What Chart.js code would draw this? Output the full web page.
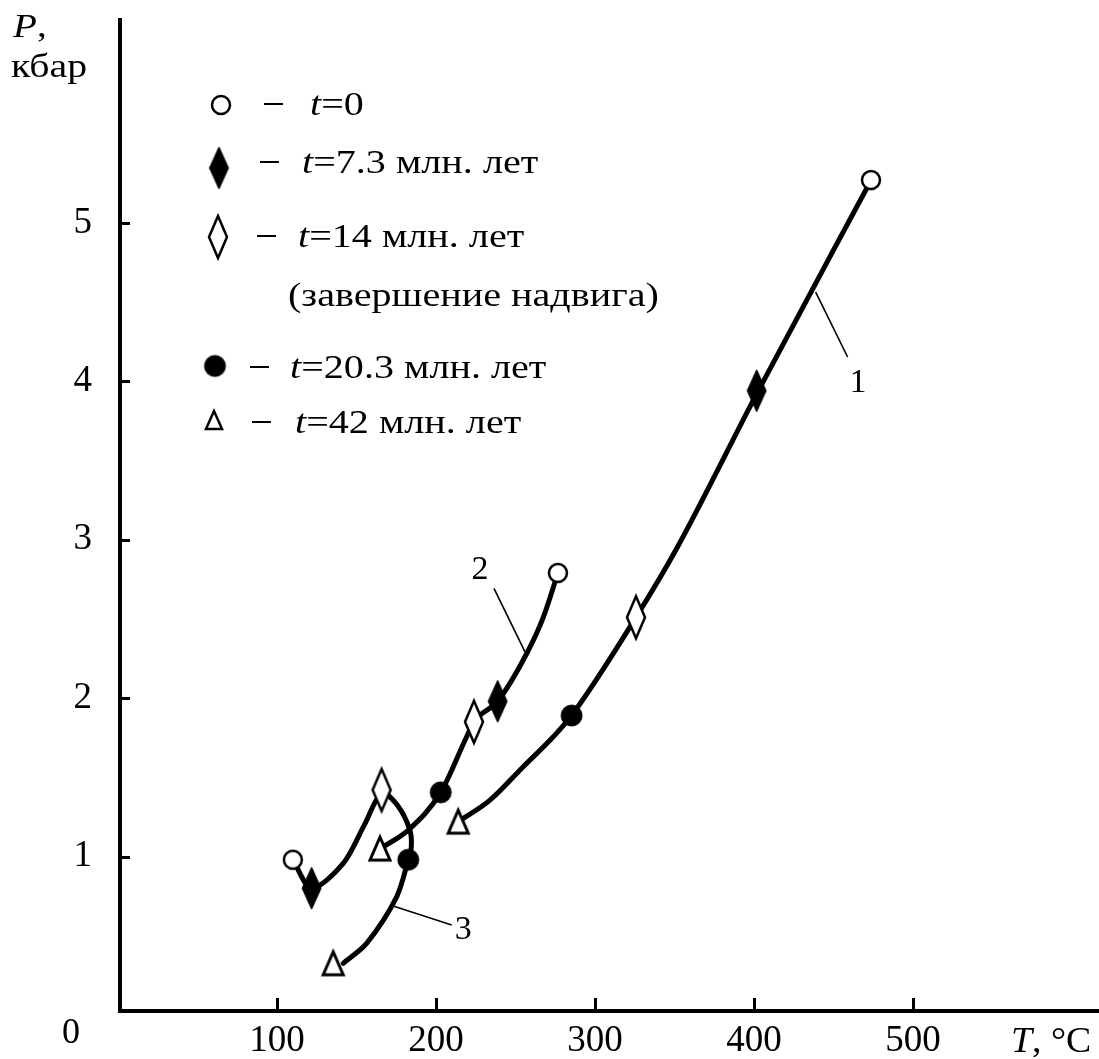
<!DOCTYPE html>
<html>
<head>
<meta charset="utf-8">
<script src="https://cdn.jsdelivr.net/npm/chart.js@4.4.1/dist/chart.umd.min.js"></script>
<style>
  html, body { margin: 0; padding: 0; background: #fff; }
  #wrap { width: 1099px; height: 1059px; }
</style>
</head>
<body>
<div id="wrap"><canvas id="pt" width="1099" height="1059"></canvas></div>
<script>
// Кривые 1-3 (T, °C ; P, кбар)
const curve1T = [214.0, 234.0, 254.9, 273.8, 285.3, 325.8, 351.4, 401.7, 473.4];
const curve1P = [1.22, 1.356, 1.567, 1.756, 1.89, 2.51, 2.944, 3.92, 5.264];
const curve2T = [164.8, 182.6, 203.0, 219.3, 223.9, 238.8, 257.0, 267.5, 276.7];
const curve2P = [1.05, 1.167, 1.405, 1.756, 1.85, 1.98, 2.28, 2.51, 2.79];
const curve3T = [110.0, 121.8, 141.7, 155.0, 166.0, 176.0, 183.6, 184.5, 182.6, 175.3, 156.4, 141.7];
const curve3P = [0.98, 0.80, 0.957, 1.20, 1.40, 1.32, 1.167, 1.06, 0.98, 0.746, 0.452, 0.326];

// Точки по моментам времени (кривые 1, 2, 3)
const t0T = [473.6, 276.7, 110.0];   const t0P = [5.27, 2.79, 0.98];
const t7T = [401.7, 238.8, 121.8];   const t7P = [3.94, 1.98, 0.80];
const t14T = [325.8, 223.9, 165.8];  const t14P = [2.51, 1.85, 1.42];
const t20T = [285.3, 203.0, 182.6];  const t20P = [1.89, 1.405, 0.98];
const t42T = [214.0, 164.8, 135.4];  const t42P = [1.22, 1.05, 0.326];

// Выноски к номерам кривых
const leader1T = [438.8, 458.9]; const leader1P = [4.563, 4.153];
const leader2T = [236.5, 256.0]; const leader2P = [2.692, 2.292];
const leader3T = [173.1, 209.9]; const leader3P = [0.688, 0.568];
const curveNames = ['1', '2', '3'];
const curveNameT = [465.4, 227.7, 217.2];
const curveNameP = [3.987, 2.808, 0.536];

const legendLabels = ['t=0', 't=7.3 млн. лет', 't=14 млн. лет', 't=20.3 млн. лет', 't=42 млн. лет'];
const xTicks = [100, 200, 300, 400, 500];
const yTicks = [1, 2, 3, 4, 5];

const FONT = '"Liberation Serif", "Times New Roman", serif';

function pts(xs, ys) {
    return xs.map((x, i) => ({ x: x, y: ys[i] }));
}

// Маркер рисуем на отдельном canvas и отдаём как pointStyle
function makeMarker(kind, w, h, lw, filled) {
    const pad = Math.ceil(lw) + 1;
    const c = document.createElement('canvas');
    c.width = w + pad * 2;
    c.height = h + pad * 2;
    const g = c.getContext('2d');
    g.translate(c.width / 2, c.height / 2);
    g.lineWidth = lw;
    g.strokeStyle = '#000';
    g.fillStyle = filled ? '#000' : '#fff';
    g.beginPath();
    if (kind === 'circle') {
        g.arc(0, 0, w / 2, 0, Math.PI * 2);
    } else if (kind === 'diamond') {
        g.moveTo(0, -h / 2); g.lineTo(w / 2, 0); g.lineTo(0, h / 2); g.lineTo(-w / 2, 0);
        g.closePath();
    } else {
        g.moveTo(0, -h / 2); g.lineTo(w / 2, h / 2); g.lineTo(-w / 2, h / 2);
        g.closePath();
    }
    g.fill();
    g.stroke();
    return c;
}

const mCircleOpen = makeMarker('circle', 18, 18, 2.5, false);
const mDiamondFilled = makeMarker('diamond', 19, 42, 1, true);
const mDiamondOpen = makeMarker('diamond', 18, 42, 2.5, false);
const mCircleFilled = makeMarker('circle', 21, 21, 1, true);
const mTriangle = makeMarker('triangle', 20, 23, 3, false);
const mTriangleSmall = makeMarker('triangle', 16, 18, 2.5, false);
const markers = [mCircleOpen, mDiamondFilled, mDiamondOpen, mCircleFilled, mTriangle];
const legendMarkers = [mCircleOpen, mDiamondFilled, mDiamondOpen, mCircleFilled, mTriangleSmall];

function curveSet(xs, ys, mode, tension) {
    return {
        type: 'line', data: pts(xs, ys), borderColor: '#000', borderWidth: 5,
        pointRadius: 0, tension: tension, cubicInterpolationMode: mode,
        fill: false, order: 2, borderCapStyle: 'round', borderJoinStyle: 'round'
    };
}
function leaderSet(xs, ys) {
    return {
        type: 'line', data: pts(xs, ys), borderColor: '#000', borderWidth: 1.6,
        pointRadius: 0, tension: 0, fill: false, order: 3
    };
}
function markerSet(label, xs, ys, style) {
    return {
        label: label, data: pts(xs, ys), pointStyle: style, pointRadius: 10,
        showLine: false, order: 0
    };
}

// Текст с возможным растяжением по горизонтали
function drawText(ctx, str, x, y, size, italic, sx) {
    ctx.save();
    ctx.font = (italic ? 'italic ' : '') + size + 'px ' + FONT;
    ctx.textBaseline = 'alphabetic';
    ctx.textAlign = 'left';
    ctx.fillStyle = '#000';
    ctx.translate(x, y);
    ctx.scale(sx || 1, 1);
    ctx.fillText(str, 0, 0);
    const w = ctx.measureText(str).width * (sx || 1);
    ctx.restore();
    return x + w;
}

// Убираем автоматические отступы под крайние подписи
function noPadding(s) {
    s.paddingTop = 0;
    s.paddingBottom = 0;
    s.paddingLeft = 0;
    s.paddingRight = 0;
}

const decorPlugin = {
    id: 'decor',
    afterDraw(chart) {
        const ctx = chart.ctx;
        const xs = chart.scales.x;
        const ys = chart.scales.y;
        const axisX = chart.chartArea.left - 2;
        const axisY = chart.chartArea.bottom;

        // Засечки внутрь поля графика
        ctx.save();
        ctx.strokeStyle = '#000';
        ctx.lineWidth = 3;
        ctx.beginPath();
        yTicks.forEach(v => {
            const py = Math.round(ys.getPixelForValue(v)) + 0.5;
            ctx.moveTo(axisX, py); ctx.lineTo(axisX + 12, py);
        });
        xTicks.forEach(v => {
            const px = Math.round(xs.getPixelForValue(v)) + 0.5;
            ctx.moveTo(px, axisY); ctx.lineTo(px, axisY - 13);
        });
        ctx.stroke();
        ctx.restore();

        // Номера кривых
        ctx.save();
        ctx.font = '34px ' + FONT;
        ctx.fillStyle = '#000';
        ctx.textAlign = 'center';
        ctx.textBaseline = 'middle';
        curveNames.forEach((n, i) => {
            ctx.fillText(n, xs.getPixelForValue(curveNameT[i]), ys.getPixelForValue(curveNameP[i]));
        });
        ctx.restore();

        // Подписи осей и начало координат
        let x = drawText(ctx, 'P', 13, 37, 34, true, 1.15);
        drawText(ctx, ',', x, 37, 34, false, 1.15);
        drawText(ctx, 'кбар', 11, 77, 34, false, 1.17);
        x = drawText(ctx, 'T', 1011, 1052, 36, true, 1.05);
        drawText(ctx, ', °C', x, 1052, 36, false, 1.05);
        drawText(ctx, '0', 62, 1043, 36, false, 1.0);

        // Легенда
        const rowY = [105, 168, 237, 366, 420];
        const base = [115, 173, 247, 378, 433];
        const dashX = [264, 260, 257, 250, 252];
        const textX = [310, 302, 298, 290, 295];
        const markX = [221, 219, 218, 215, 214];
        legendLabels.forEach((lab, i) => {
            const mk = legendMarkers[i];
            ctx.drawImage(mk, markX[i] - mk.width / 2, rowY[i] - mk.height / 2);
            ctx.save();
            ctx.strokeStyle = '#000';
            ctx.lineWidth = 2;
            ctx.beginPath();
            ctx.moveTo(dashX[i], base[i] - 11);
            ctx.lineTo(dashX[i] + 19, base[i] - 11);
            ctx.stroke();
            ctx.restore();
            const nx = drawText(ctx, lab[0], textX[i], base[i], 34, true, 1.18);
            drawText(ctx, lab.slice(1), nx, base[i], 34, false, 1.18);
        });
        drawText(ctx, '(завершение надвига)', 288, 306, 34, false, 1.18);
    }
};

const tickFont = { family: FONT, size: 37 };

const ctx = document.getElementById('pt').getContext('2d');
new Chart(ctx, {
    type: 'scatter',
    data: {
        datasets: [
            markerSet(legendLabels[0], t0T, t0P, markers[0]),
            markerSet(legendLabels[1], t7T, t7P, markers[1]),
            markerSet(legendLabels[2], t14T, t14P, markers[2]),
            markerSet(legendLabels[3], t20T, t20P, markers[3]),
            markerSet(legendLabels[4], t42T, t42P, markers[4]),
            curveSet(curve1T, curve1P, 'monotone', 0.4),
            curveSet(curve2T, curve2P, 'monotone', 0.4),
            curveSet(curve3T, curve3P, 'default', 0.3),
            leaderSet(leader1T, leader1P),
            leaderSet(leader2T, leader2P),
            leaderSet(leader3T, leader3P)
        ]
    },
    options: {
        responsive: false,
        animation: false,
        layout: { autoPadding: false, padding: { top: 20, right: 0, left: 0, bottom: 0 } },
        plugins: {
            legend: { display: false },
            tooltip: { enabled: false }
        },
        scales: {
            x: {
                type: 'linear', min: 1.3, max: 617,
                grid: { display: false, drawTicks: false },
                border: { display: true, width: 4, color: '#000' },
                ticks: { font: tickFont, color: '#000', padding: 8 },
                afterBuildTicks: s => { s.ticks = xTicks.map(v => ({ value: v })); },
                afterFit: s => { s.height = 48; noPadding(s); }
            },
            y: {
                type: 'linear', min: 0.025, max: 6.28,
                grid: { display: false, drawTicks: false },
                border: { display: true, width: 4, color: '#000' },
                ticks: { font: tickFont, color: '#000', padding: 28 },
                afterBuildTicks: s => { s.ticks = yTicks.map(v => ({ value: v })); },
                afterFit: s => { s.width = 120; noPadding(s); }
            }
        }
    },
    plugins: [decorPlugin]
});
</script>
</body>
</html>
